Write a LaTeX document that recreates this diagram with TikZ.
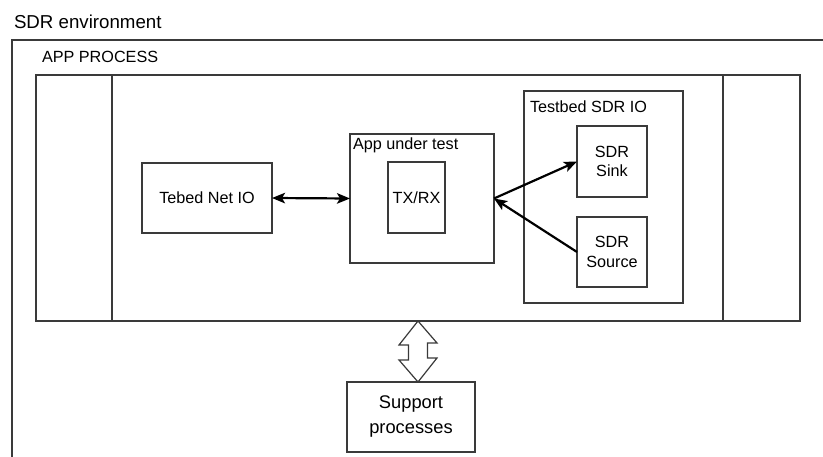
\documentclass[tikz,border=0pt]{standalone}
\usepackage{fontspec}
\setmainfont{Liberation Sans}
\usetikzlibrary{arrows.meta}
\definecolor{boxline}{HTML}{3A3A3A}
\begin{document}
\begin{tikzpicture}[x=1pt,y=-1pt,
  every node/.style={inner sep=0pt, outer sep=0pt},
  box/.style={draw=boxline, line width=1.2pt, align=center,
    font=\fontsize{16.2}{19.5}\selectfont},
  frame/.style={draw=boxline, line width=1.2pt},
  lbl/.style={anchor=base west, font=\fontsize{16.2}{19.5}\selectfont},
  tip/.tip={Stealth[length=13pt,width=10.5pt,inset=3pt]},
  link/.style={line width=2.2pt, black, -tip},
  biglink/.style={line width=2.2pt, black, tip-tip},
  hollow/.style={draw=boxline, line width=1.2pt, fill=white, line join=miter}]
  \useasboundingbox (0,0) rectangle (823,457);

  % SDR environment frame (open to the right and below)
  \node[anchor=base west, font=\fontsize{18.7}{22}\selectfont] (envlbl) at (14,29) {SDR environment};
  \draw[frame] (12,457) -- (12,40) -- (823,40);

  % application process with its side compartments
  \node[lbl] (applbl) at (42,63) {APP PROCESS};
  \node[box, minimum width=764pt, minimum height=246pt] (appproc) at (418,198) {};
  \draw[frame] (112,75) -- (112,321);
  \draw[frame] (723,75) -- (723,321);

  % network side
  \node[box, minimum width=130pt, minimum height=70pt] (netio) at (207,198) {Tebed Net IO};

  % application under test
  \node[box, minimum width=144pt, minimum height=129pt] (aut) at (422,198.5) {};
  \node[lbl] (autlbl) at (353,150) {App under test};
  \node[box, minimum width=57pt, minimum height=71pt] (txrx) at (416.5,197.5) {TX/RX};

  % testbed SDR I/O container
  \node[box, minimum width=159pt, minimum height=212pt] (sdrio) at (603.5,197) {};
  \node[lbl] (sdriolbl) at (530,113) {Testbed SDR IO};
  \node[box, minimum width=70pt, minimum height=71pt] (sink) at (612,161.5) {SDR\\Sink};
  \node[box, minimum width=70pt, minimum height=70pt] (source) at (612,252) {SDR\\Source};

  % support processes
  \node[box, minimum width=128pt, minimum height=70pt, font=\fontsize{18.3}{25}\selectfont] (support) at (411,417) {Support\\processes};

  % connectors
  \draw[biglink] (netio.east) -- (aut.west);
  \draw[link] (aut.east) -- (sink.west);
  \draw[link] (source.west) -- (aut.east);

  % hollow double arrow between the app process and the support processes
  \coordinate (dtop) at (appproc.south -| 418,0);
  \coordinate (dbot) at (support.north -| 418,0);
  \draw[hollow] (dtop) -- ++(19,22) -- ++(-9.5,0) -- ++(0,15) -- ++(9.5,0)
    -- (dbot) -- ++(-19,-22) -- ++(9.5,0) -- ++(0,-15) -- ++(-9.5,0) -- cycle;
\end{tikzpicture}
\end{document}
